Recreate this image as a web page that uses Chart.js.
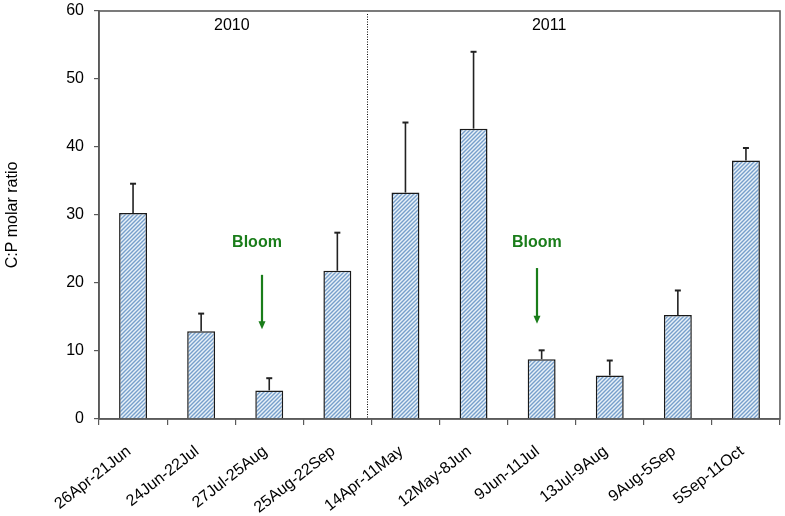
<!DOCTYPE html>
<html>
<head>
<meta charset="utf-8">
<script src="https://cdn.jsdelivr.net/npm/chart.js@4.4.1/dist/chart.umd.min.js"></script>
<style>
  html, body { margin:0; padding:0; background:#fff; }
  #wrap { width:785px; height:516px; }
</style>
</head>
<body>
<div id="wrap"><canvas id="barChart"></canvas></div>
<script>

const periods = [
    "26Apr-21Jun", "24Jun-22Jul", "27Jul-25Aug", "25Aug-22Sep",
    "14Apr-11May", "12May-8Jun", "9Jun-11Jul", "13Jul-9Aug",
    "9Aug-5Sep", "5Sep-11Oct"
];

const ratios = [30.3, 12.9, 4.2, 21.8, 33.3, 42.7, 8.8, 6.4, 15.3, 38.0];

const errors = [4.3, 2.6, 1.8, 5.6, 10.3, 11.3, 1.3, 2.2, 3.6, 1.85];

const yTicks = [0, 10, 20, 30, 40, 50, 60];

const years = ["2010", "2011"];

const FONT = "'Liberation Sans', Arial, sans-serif";

function hatch(){

    const c = document.createElement("canvas");
    c.width = 4;
    c.height = 4;
    const g = c.getContext("2d");

    g.fillStyle = "#e8f1f8";
    g.fillRect(0, 0, 4, 4);

    g.strokeStyle = "#779fcb";
    g.lineWidth = 1.4;
    g.beginPath();
    g.moveTo(-1, 5); g.lineTo(5, -1);
    g.moveTo(-1, 1); g.lineTo(1, -1);
    g.moveTo(3, 5); g.lineTo(5, 3);
    g.stroke();

    return g.createPattern(c, "repeat");

}

// error bars, dotted divider, year labels and bloom arrows
const extras = {

    id: "extras",

    afterDatasetsDraw(chart){

        const ctx = chart.ctx;
        const xs = chart.scales.x;
        const ys = chart.scales.y;
        const area = chart.chartArea;
        const bars = chart.getDatasetMeta(0).data;

        ctx.save();

        // error bars (upper only)
        ctx.strokeStyle = "#222";
        bars.forEach((bar, i)=>{
            const yTop = ys.getPixelForValue(ratios[i] + errors[i]);
            ctx.lineWidth = 1.6;
            ctx.beginPath();
            ctx.moveTo(bar.x, bar.y);
            ctx.lineTo(bar.x, yTop);
            ctx.stroke();
            ctx.lineWidth = 2;
            ctx.beginPath();
            ctx.moveTo(bar.x - 3, yTop);
            ctx.lineTo(bar.x + 3, yTop);
            ctx.stroke();
        });

        // dotted divider between years
        const xd = Math.round(xs.getPixelForValue(3.44)) + 0.5;
        ctx.strokeStyle = "#000";
        ctx.lineWidth = 1;
        ctx.setLineDash([1, 1.5]);
        ctx.beginPath();
        ctx.moveTo(xd, area.top + 3);
        ctx.lineTo(xd, area.bottom);
        ctx.stroke();
        ctx.setLineDash([]);

        // year labels
        ctx.fillStyle = "#000";
        ctx.font = "16px " + FONT;
        ctx.textAlign = "center";
        ctx.textBaseline = "middle";
        ctx.fillText(years[0], xs.getPixelForValue(1.45), ys.getPixelForValue(57.8));
        ctx.fillText(years[1], xs.getPixelForValue(6.11), ys.getPixelForValue(57.8));

        // bloom markers
        const green = "#1a7d1a";
        const blooms = [
            {text:1.82, arrow:1.89, from:21.2, to:13.2},
            {text:5.93, arrow:5.93, from:22.2, to:14.0}
        ];
        blooms.forEach(b=>{

            ctx.fillStyle = green;
            ctx.font = "bold 16px " + FONT;
            ctx.fillText("Bloom", xs.getPixelForValue(b.text), ys.getPixelForValue(25.9));

            const ax = Math.round(xs.getPixelForValue(b.arrow));
            const y0 = ys.getPixelForValue(b.from);
            const y1 = ys.getPixelForValue(b.to);

            ctx.strokeStyle = green;
            ctx.lineWidth = 2.2;
            ctx.beginPath();
            ctx.moveTo(ax, y0);
            ctx.lineTo(ax, y1 - 6);
            ctx.stroke();

            ctx.beginPath();
            ctx.moveTo(ax - 3.5, y1 - 8);
            ctx.lineTo(ax + 3.5, y1 - 8);
            ctx.lineTo(ax, y1);
            ctx.closePath();
            ctx.fill();

        });

        // plot frame
        ctx.strokeStyle = "#5a5a5a";
        ctx.lineWidth = 1.6;
        ctx.strokeRect(area.left, area.top, area.right - area.left, area.bottom - area.top);

        ctx.restore();

    }

};

const ctx = document.getElementById("barChart").getContext("2d");

const barChart = new Chart(ctx, {

    type: "bar",

    data: {
        labels: periods,
        datasets: [{
            data: ratios,
            backgroundColor: hatch(),
            borderColor: "#1a1a1a",
            borderWidth: 1.5,
            borderSkipped: "bottom",
            barPercentage: 0.41,
            categoryPercentage: 1
        }]
    },

    options: {

        responsive: true,
        maintainAspectRatio: false,
        animation: false,
        devicePixelRatio: 1,

        layout: {
            padding: {left: 0, right: 5, top: 11, bottom: 0}
        },

        plugins: {
            legend: {display: false},
            tooltip: {enabled: false}
        },

        scales: {

            x: {
                offset: true,
                grid: {
                    display: true,
                    drawOnChartArea: false,
                    offset: true,
                    tickLength: 6,
                    color: "#5a5a5a",
                    lineWidth: 1.2
                },
                border: {color: "#5a5a5a", width: 1.6},
                ticks: {
                    color: "#000",
                    minRotation: 38,
                    maxRotation: 38,
                    padding: 17,
                    labelOffset: -4,
                    font: {size: 16, family: FONT}
                },
                afterFit(scale){
                    scale.height = 97;
                }
            },

            y: {
                min: 0,
                max: 60,
                afterBuildTicks(scale){
                    scale.ticks = yTicks.map(v=>({value: v}));
                },
                grid: {
                    display: true,
                    drawOnChartArea: false,
                    tickLength: 5,
                    color: "#5a5a5a",
                    lineWidth: 1.2
                },
                border: {color: "#5a5a5a", width: 1.6},
                ticks: {
                    color: "#000",
                    padding: 10,
                    font: {size: 16, family: FONT}
                },
                title: {
                    display: true,
                    text: "C:P molar ratio",
                    color: "#000",
                    padding: {top: 3, bottom: 0},
                    font: {size: 16, family: FONT}
                },
                afterFit(scale){
                    scale.width = 99;
                    scale.paddingTop = 0;
                    scale.paddingBottom = 0;
                }
            }

        }

    },

    plugins: [extras]

});

</script>
</body>
</html>
